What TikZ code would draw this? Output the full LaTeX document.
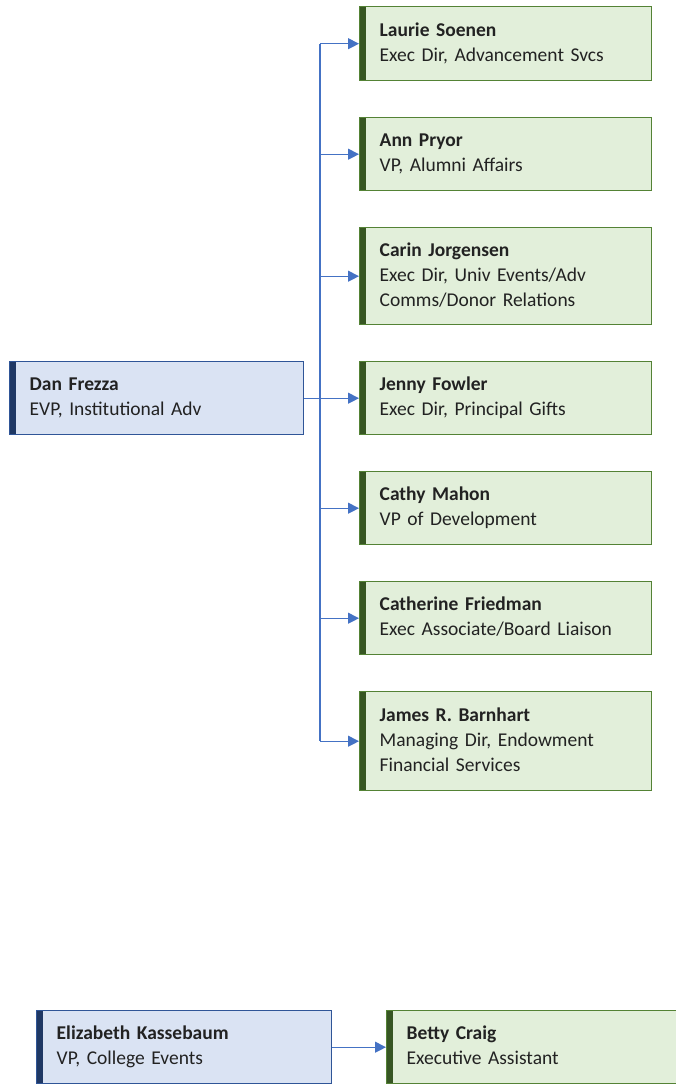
\documentclass[tikz,border=0pt]{standalone}
\usepackage{fontspec}
\setmainfont[WordSpace=0.7]{Carlito}
\usetikzlibrary{arrows.meta}
\definecolor{gfill}{HTML}{E2EFDA}
\definecolor{gline}{HTML}{548235}
\definecolor{gbar}{HTML}{375623}
\definecolor{bfill}{HTML}{DAE3F3}
\definecolor{bline}{HTML}{2F5597}
\definecolor{bbar}{HTML}{1F3864}
\definecolor{conncol}{HTML}{4472C4}
\definecolor{txt}{HTML}{222222}
\begin{document}
\begin{tikzpicture}[x=1pt,y=-1pt,
  box/.style={rectangle, anchor=north west, line width=1.4pt, align=left,
    inner xsep=20pt, inner ysep=4pt, text=txt,
    font=\fontsize{19.5}{25}\selectfont,
    execute at begin node={\strut}, execute at end node={\strut}},
  gbox/.style={box, fill=gfill, draw=gline, minimum width=292pt, text width=252pt,
    path picture={\fill[gbar] (path picture bounding box.north west) rectangle ([xshift=6pt]path picture bounding box.south west);}},
  bbox/.style={box, fill=bfill, draw=bline, minimum width=294pt, text width=254pt,
    path picture={\fill[bbar] (path picture bounding box.north west) rectangle ([xshift=6pt]path picture bounding box.south west);}},
  conn/.style={draw=conncol, line width=1.2pt},
  arr/.style={conn, -{Triangle[length=11pt,width=11pt]}}
]
\useasboundingbox (0,0) rectangle (676,1085);

\node[bbox, minimum height=73pt] (dan) at (9,361) {\textbf{Dan Frezza}\\EVP, Institutional Adv};

\node[gbox, minimum height=74pt] (b1) at (359,6) {\textbf{Laurie Soenen}\\Exec Dir, Advancement Svcs};
\node[gbox, minimum height=73pt] (b2) at (359,117) {\textbf{Ann Pryor}\\VP, Alumni Affairs};
\node[gbox, minimum height=97pt] (b3) at (359,227) {\textbf{Carin Jorgensen}\\Exec Dir, Univ Events/Adv\\Comms/Donor Relations};
\node[gbox, minimum height=73pt] (b4) at (359,361) {\textbf{Jenny Fowler}\\Exec Dir, Principal Gifts};
\node[gbox, minimum height=73pt] (b5) at (359,471) {\textbf{Cathy Mahon}\\VP of Development};
\node[gbox, minimum height=73pt] (b6) at (359,581) {\textbf{Catherine Friedman}\\Exec Associate/Board Liaison};
\node[gbox, minimum height=99pt] (b7) at (359,691) {\textbf{James R. Barnhart}\\Managing Dir, Endowment\\Financial Services};

\coordinate (trunk) at (320,397);
\draw[conn] (b1.west -| trunk) -- (b7.west -| trunk);
\draw[conn] (dan.east) -- (dan.east -| trunk);
\foreach \b in {b1,b2,b3,b4,b5,b6,b7}
  \draw[arr] (\b.west -| trunk) -- (\b.west);

\node[bbox, minimum width=295pt, text width=255pt, minimum height=73pt] (eliz) at (36,1010) {\textbf{Elizabeth Kassebaum}\\VP, College Events};
\node[gbox, minimum width=292pt, minimum height=73pt, inner xsep=20pt] (betty) at (386,1010) {\textbf{Betty Craig}\\Executive Assistant};
\draw[arr] (eliz.east) -- (betty.west);
\end{tikzpicture}
\end{document}
